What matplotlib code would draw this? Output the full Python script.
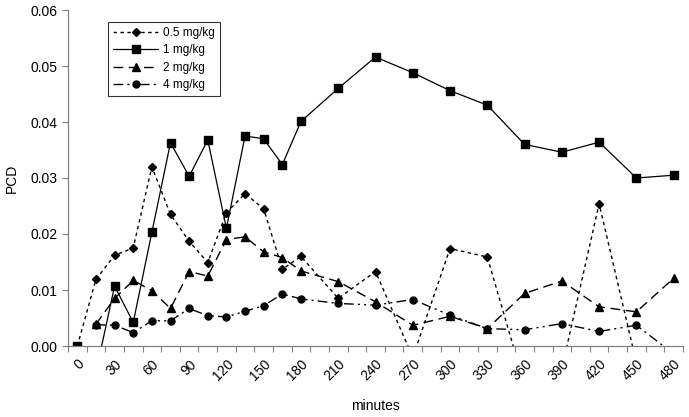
import numpy as np
import matplotlib
matplotlib.use("Agg")
import matplotlib.pyplot as plt
from matplotlib.ticker import FixedLocator, FormatStrFormatter

plt.rcParams['font.family'] = ['Liberation Sans', 'DejaVu Sans']

nan = np.nan
times = [0, 15, 30, 45, 60, 75, 90, 105, 120, 135, 150, 165, 180,
         210, 240, 270, 300, 330, 360, 390, 420, 450, 480]
pcd_05 = [0.0, 0.0119, 0.0162, 0.0175, 0.0320, 0.0235, 0.0187, 0.0149, 0.0238,
          0.0272, 0.0245, 0.0137, 0.0160, 0.0085, 0.0133, -0.0020, 0.0174,
          0.0159, -0.0070, -0.0040, 0.0254, -0.0030, -0.0050]
pcd_1 = [0.0, -0.0047, 0.0107, 0.0042, 0.0203, 0.0363, 0.0303, 0.0368, 0.0210,
         0.0375, 0.0370, 0.0324, 0.0401, 0.0460, 0.0516, 0.0488, 0.0456,
         0.0430, 0.0360, 0.0346, 0.0364, 0.0300, 0.0305]
pcd_2 = [nan, 0.0039, 0.0085, 0.0117, 0.0099, 0.0067, 0.0133, 0.0125, 0.0190,
         0.0195, 0.0168, 0.0158, 0.0134, 0.0115, 0.0079, 0.0037, 0.0053,
         0.0031, 0.0094, 0.0116, 0.0070, 0.0061, 0.0121]
pcd_4 = [nan, 0.0038, 0.0037, 0.0024, 0.0045, 0.0045, 0.0067, 0.0054, 0.0052,
         0.0062, 0.0072, 0.0093, 0.0084, 0.0076, 0.0073, 0.0083, 0.0055,
         0.0031, 0.0029, 0.0040, 0.0026, 0.0037, -0.0014]
series_labels = ['0.5 mg/kg', '1 mg/kg', '2 mg/kg', '4 mg/kg']
x_tick_labels = [str(v) for v in range(0, 481, 30)]
y_ticks = [0.0, 0.01, 0.02, 0.03, 0.04, 0.05, 0.06]

fig = plt.figure(figsize=(6.89, 4.17), dpi=100)
ax = fig.add_axes([68/689, 1-346/417, (683-68)/689, (346-10)/417])

ax.plot(times, pcd_05, color='black', lw=1.0, ls=(0, (2.5, 2.5)),
        marker='D', ms=4.2, label=series_labels[0])
ax.plot(times, pcd_1, color='black', lw=0.9, ls='-',
        marker='s', ms=5.2, label=series_labels[1])
ax.plot(times, pcd_2, color='black', lw=1.0, ls=(0, (7, 4)),
        marker='^', ms=5.8, label=series_labels[2])
ax.plot(times, pcd_4, color='black', lw=1.0, ls=(0, (7, 3, 1.5, 3, 1.5, 3)),
        marker='o', ms=5.0, label=series_labels[3])

ax.set_xlim(-7.5, 487.5)
ax.set_ylim(0, 0.06)

ax.xaxis.set_major_locator(FixedLocator(list(range(0, 481, 30))))
ax.set_xticklabels(x_tick_labels, rotation=45, ha='right',
                   rotation_mode='anchor', fontsize=10)
ax.xaxis.set_minor_locator(FixedLocator(list(np.arange(-7.5, 490, 15))))
ax.tick_params(axis='x', which='major', length=0, pad=8)
ax.tick_params(axis='x', which='minor', length=4, width=0.8,
               direction='out', color='#808080')

ax.set_yticks(y_ticks)
ax.yaxis.set_major_formatter(FormatStrFormatter('%.2f'))
ax.tick_params(axis='y', length=4, width=0.8, direction='out',
               color='#808080', labelsize=10)

for s in ['top', 'right']:
    ax.spines[s].set_visible(False)
for s in ['left', 'bottom']:
    ax.spines[s].set_color('#808080')
    ax.spines[s].set_linewidth(0.9)

ax.set_xlabel('minutes', fontsize=10, labelpad=11)
ax.set_ylabel('PCD', fontsize=10, labelpad=8)

leg = ax.legend(loc='upper left', bbox_to_anchor=(40/615, 0.965),
                fontsize=8.5, frameon=True, fancybox=False,
                handlelength=3.8, borderpad=0.45, labelspacing=0.45,
                handletextpad=0.4, borderaxespad=0)
leg.get_frame().set_edgecolor('black')
leg.get_frame().set_linewidth(0.8)

fig.savefig('out.png', dpi=100)
